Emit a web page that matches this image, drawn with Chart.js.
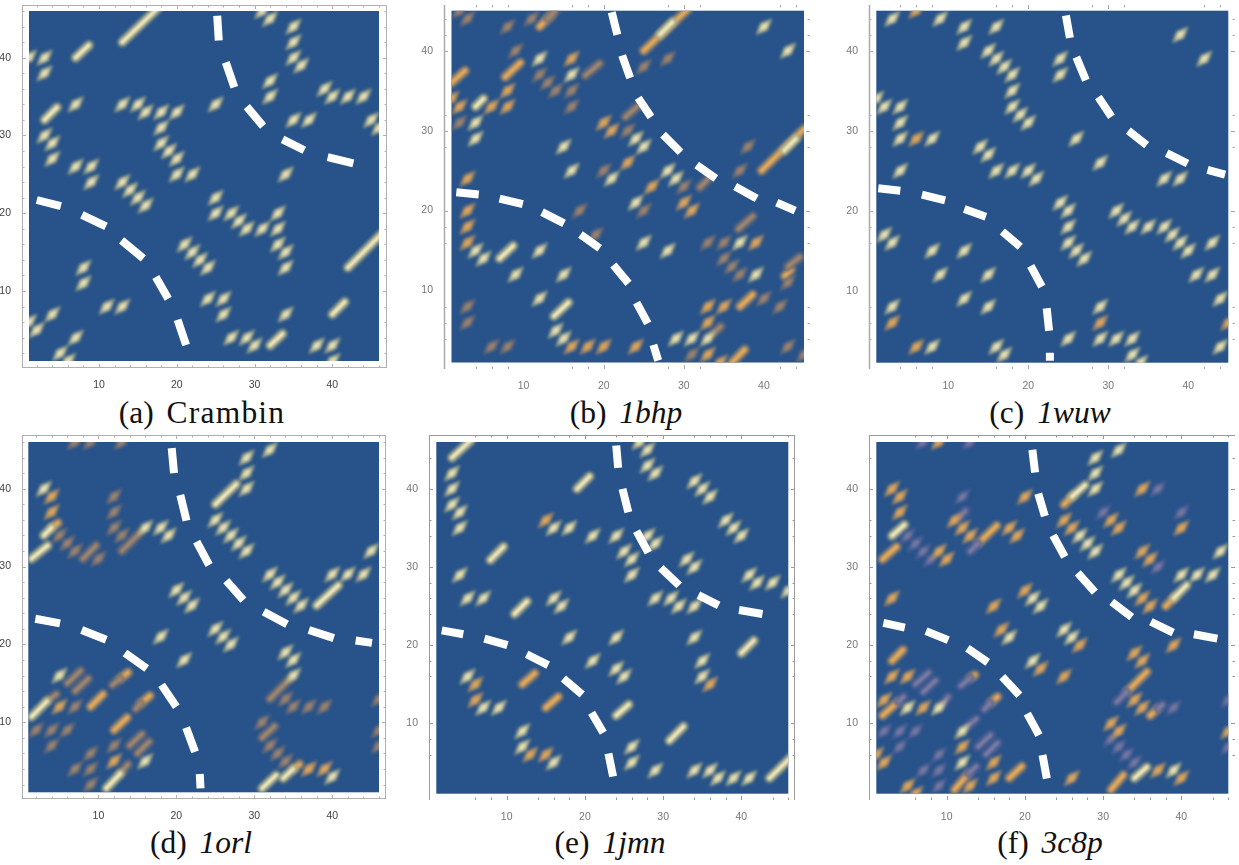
<!DOCTYPE html>
<html lang="en">

<head>
    <meta charset="UTF-8">
    <title>Contact maps</title>
    <script src="https://cdn.jsdelivr.net/npm/chart.js"></script>
    <style>
        html, body { margin: 0; background: #fff; overflow: hidden; }
        canvas { position: absolute; }
        .caption { position: absolute; font: 31.5px "Liberation Serif", serif; color: #111; transform: translateX(-50%); white-space: pre; line-height: 34px; word-spacing: 5px; }
        .caption span { letter-spacing: 1.2px; }
    </style>
</head>

<body>
    <script>
        // tick lists
        var everyTwo = [2, 4, 6, 8, 10, 12, 14, 16, 18, 20, 22, 24, 26, 28, 30, 32, 34, 36, 38, 40, 42, 44, 46];
        var sparseX = [4, 6, 8, 16, 18, 20, 28, 30, 32, 42, 44];
        var sparseY = [4, 6, 8, 16, 18, 20, 28, 30, 32, 40, 42, 44];
        var wideX = [6, 8, 10, 14, 16, 18, 20, 24, 26, 28, 30, 34, 36, 38, 40, 44, 46];
        var wideY = [6, 8, 10, 16, 18, 20, 24, 26, 28, 30, 34, 36, 40, 44];
        var labelTicks = [10, 20, 30, 40];

        // (a) Crambin
        var aCream = [[1,40],[3,40],[3,38],[7,34],[3,30],[4,29],[4,27],[7,26],[9,26],[9,24],[13,34],[15,34],[16,33],[18,33],[20,33],[18,31],[18,29],[19,28],[20,27],[20,25],[22,25],[13,24],[14,23],[15,22],[16,21],[25,34],[25,22],[25,20],[27,20],[28,19],[29,18],[31,18],[33,18],[33,20],[33,16],[34,15],[34,13],[34,25],[21,16],[22,15],[23,14],[24,13],[8,13],[8,11],[11,8],[13,8],[4,7],[1,6],[2,5],[7,4],[5,2],[6,1],[24,9],[26,9],[26,7],[27,4],[29,4],[30,3],[34,7],[38,3],[40,3],[40,1],[31,46],[32,45],[35,44],[35,42],[35,40],[36,39],[32,37],[32,35],[39,36],[40,35],[42,35],[44,35],[45,32],[46,31],[35,32],[37,32]];
        var aCreamRuns = [[13,42,17.6,46.4],[7,40,8.7,41.6],[3,32,4.6,33.6],[32,3,33.6,4.5],[40,7,41.6,8.6],[42,13,46.4,17.4]];
        var aDashes = [[[2,21.7],[5.1,20.9]],[[7.8,19.8],[10.9,18.3]],[[12.9,16.5],[15.7,14.2]],[[17.3,11.8],[18.9,9]],[[20.1,6.3],[21.2,3.05]],[[25.2,45.4],[25.4,42.2]],[[26.3,39.4],[27.4,36.2]],[[29,33.7],[31.1,31.2]],[[33.6,29.5],[36.4,28.1]],[[39.4,27.2],[42.7,26.4]]];

        // (b) 1bhp
        var bCream = [[12,39],[16,37],[4,31],[4,29],[4,15],[5,14],[12,15],[9,12],[15,28],[16,25],[15,12],[12,9],[14,5],[15,4],[24,29],[25,28],[21,24],[28,25],[29,24],[24,21],[25,16],[28,15],[40,43],[43,40],[37,16],[39,12],[29,4],[31,4],[33,4]];
        var bOrange = [[16,39],[8,35],[8,33],[6,33],[2,33],[1,34],[3,24],[3,20],[3,18],[3,16],[16,3],[18,3],[20,3],[24,3],[20,31],[21,30],[23,26],[26,23],[30,21],[31,20],[39,16],[33,8],[35,8],[33,6],[33,2],[34.5,1]];
        var bTan = [[2,45],[3,44],[8,43],[11,44],[9,40],[12,37],[13,36],[14,35],[16,35],[16,33],[2,31],[3,8],[3,6],[6,3],[8,3],[17,20],[19,17],[23,30],[20,25],[30,23],[25,20],[25,38],[28,39],[38,28],[37,25],[33,16],[35,16],[35,14],[36,13],[37,12],[43,11],[40,9],[42,8],[43,3],[45,2],[31,2]];
        var bCreamRuns = [[7,14,8.7,15.6],[13.8,6.8,15.6,8.5],[4,33,5,34],[27,42,28.6,43.6],[42.5,27.5,44,29]];
        var bOrangeRuns = [[12,43,13.5,44.5],[7.7,36.7,9.6,38.5],[1,36,2.7,37.5],[25,40,30.5,45.2],[39.7,25,45,30.2],[42.6,11.8,43.4,12.6],[37,8,38.6,9.5],[36,1,37.6,2.6]];
        var bTanRuns = [[13,44,14,45],[17.7,36.9,19.5,38.4],[22.7,31.7,24.2,33],[32,22.9,33,23.9],[36.8,17.7,38.6,19.3],[43,13,44.5,14.2],[33.5,4.5,34.6,5.5]];
        var bDashes = [[[1.6,22.3],[4.4,22]],[[7,21.5],[9.9,20.8]],[[12.3,19.8],[15.05,18.4]],[[17.1,17],[19.5,15.3]],[[21.2,13.2],[23.1,10.9]],[[24.1,8.5],[25.5,5.9]],[[26.2,3.2],[26.8,1.25]],[[21,44.8],[21.7,42]],[[22.3,39.4],[23.3,36.6]],[[24.3,34.1],[25.9,31.7]],[[27.4,29.5],[29.6,27.3]],[[31.6,25.7],[34,24]],[[36.4,23],[39.1,21.5]],[[41.6,21],[43.9,20]]];

        // (c) 1wuw
        var cCream = [[3,44],[9,44],[12,43],[12,41],[16,43],[15,40],[16,39],[17,38],[18,37],[18,35],[18,33],[19,32],[20,31],[1,34],[2,33],[4,33],[4,31],[4,29],[8,29],[4,25],[14,28],[15,27],[16,25],[18,25],[20,25],[21,24],[2,17],[3,16],[8,15],[12,15],[9,12],[15,12],[12,9],[15,8],[3,8],[8,3],[16,3],[17,2],[24,39],[24,37],[26,29],[29,26],[39,42],[42,39],[37,24],[39,24],[24,21],[25,20],[25,18],[25,16],[26,15],[27,14],[31,20],[32,19],[33,18],[35,18],[37,18],[38,17],[39,16],[40,15],[43,16],[41,12],[43,12],[44,9],[44,3],[29,8],[29,4],[31,4],[33,4],[33,2],[34,1],[25,4]];
        var cOrange = [[6,45],[6,29],[3,6],[6,3],[45,6],[29,6]];
        var cDashes = [[[1.25,22.8],[4,22.5]],[[6.7,22],[9.6,21.3]],[[12,20.2],[14.7,19.25]],[[16.75,17.4],[19,15.5]],[[20.3,13.1],[21.7,10.5]],[[22.3,7.8],[22.6,5]],[[22.7,2.25],[22.7,1.25]],[[24.7,44.4],[25.2,41.6]],[[26,39.2],[27.2,36.3]],[[28.75,34.2],[30.4,31.75]],[[32.5,30],[34.8,28.2]],[[37.3,27.2],[39.9,25.9]],[[42.4,25.1],[44.6,24.5]]];

        // (d) 1orl
        var dCream = [[32,45],[29,44],[29,42],[29,40],[25,36],[26,35],[27,34],[28,33],[29,32],[3,40],[16,35],[18,35],[19,34],[20,27],[21,26],[22,25],[25,22],[26,21],[27,20],[18,21],[21,18],[32,29],[33,28],[34,27],[35,26],[36,25],[40,29],[42,29],[44,29],[45,32],[34,19],[35,18],[35,16],[40,3],[5,16],[16,5]];
        var dOrange = [[4,39],[4,37],[5,12],[12,5],[37,4],[39,4]];
        var dTan = [[7,46],[9,46],[13,46],[5,34],[6,33],[7,32],[10,31],[12,39],[12,37],[12,35],[13,34],[34,13],[35,12],[37,12],[39,12],[46,13],[46,9],[46,7],[31,10],[32,7],[33,6],[34,5],[7,12],[2,9],[4,9],[6,9],[4,7],[12,7],[9,6],[7,4],[9,4],[9,2]];
        var dCreamRuns = [[25,38,27.7,40.6],[38,25,40.8,27.6],[1.4,31,3.5,32.7],[3,34,4,35],[31,1.5,32.8,3.2],[33.7,2.8,35,4],[1.4,10.7,3.4,12.7],[11,1.5,12.8,3.4]];
        var dOrangeRuns = [[4,35,4.8,35.6],[12.8,15.6,13.8,16.4],[35,4,35.8,4.6],[9,12,10.6,13.6],[15.4,12.4,16.6,13.4],[12,9,13.7,10.6]];
        var dTanRuns = [[8,31,9.7,32.7],[13,32,15.4,34.4],[6,15,7.7,16.6],[7,14,8.7,15.6],[11.8,14.8,12.8,15.6],[32,13,34.6,15.6],[31,8,32.6,9.5],[3.4,12.7,4.6,13.6],[14.8,11.7,15.4,12.4],[14,7,15.6,8.5],[15,6,16.5,7.5],[12.8,3.4,13.8,4.6]];
        var dDashes = [[[1.9,23.3],[5.07,22.7]],[[7.85,21.85],[11,20.6]],[[13.4,18.9],[16.2,16.9]],[[18.1,14.8],[20,12]],[[21.25,9.3],[22.4,6.2]],[[23,3.35],[23.1,1.5]],[[19.4,45.2],[19.7,42]],[[20.5,39.2],[21.3,35.9]],[[22.6,33.2],[24.2,30.2]],[[26.4,28.2],[28.6,25.7]],[[31.2,24.2],[34.2,22.6]],[[37,21.85],[40.2,20.8]],[[43,20.5],[45.1,20.2]]];

        // (e) 1jmn
        var eCream = [[3,42],[3,40],[3,38],[4,37],[4,35],[4,29],[5,26],[7,26],[16,26],[17,25],[16,35],[18,35],[21,34],[24,34],[18,21],[21,18],[24,21],[24,17],[25,16],[5,16],[7,12],[9,12],[12,9],[12,7],[16,5],[26,7],[26,5],[29,4],[34,4],[36,4],[37,3],[39,3],[41,3],[27,46],[28,45],[28,43],[29,42],[34,41],[35,40],[36,39],[38,36],[39,35],[40,34],[28,34],[29,33],[25,32],[26,31],[26,29],[33,31],[34,30],[41,29],[42,28],[44,28],[46,27],[29,26],[31,26],[32,25],[34,25],[34,21],[35,18],[35,16]];
        var eOrange = [[15,36],[6,15],[6,13],[13,6],[15,6],[36,15]];
        var eCreamRuns = [[3,44,5.4,46.2],[7.9,30.9,9.6,32.6],[11,24,12.6,25.6],[19,40,20.6,41.6],[24,11,25.6,12.4],[30.8,7.8,32.6,9.6],[43.6,3,46.4,5.7],[40,19,41.6,20.6]];
        var eOrangeRuns = [[12,15,13.6,16.4],[15,12,16.6,13.4]];
        var eDashes = [[[1.7,21.9],[4.45,21.4]],[[7.15,20.85],[10.1,20]],[[12.55,18.85],[15.3,17.45]],[[17.25,15.75],[19.65,13.7]],[[20.85,11.35],[22.35,8.8]],[[23,6.15],[23.6,3.2]],[[24,45.55],[24.25,42.7]],[[24.8,40],[25.55,37]],[[26.6,34.6],[28.1,31.85]],[[29.7,29.9],[32.05,27.65]],[[34.5,26.4],[37.1,25.1]],[[39.7,24.5],[42.7,24]]];

        // (f) 3c8p
        var fCream = [[32,45],[29,44],[29,42],[29,40],[27,34],[28,33],[29,32],[32,29],[33,28],[34,27],[40,29],[42,29],[44,29],[45,32],[21,26],[22,25],[18,21],[25,22],[26,21],[21,18],[5,12],[9,12],[12,9],[12,5],[39,4]];
        var fOrange = [[9,46],[25,36],[26,35],[3,40],[4,39],[4,37],[9,32],[10,31],[11,36],[12,35],[13,34],[18,35],[19,34],[20,39],[31,36],[32,35],[35,40],[40,35],[35,32],[36,31],[35,26],[36,25],[3,26],[20,27],[16,25],[17,22],[27,20],[39,20],[34,19],[35,18],[34,13],[35,12],[46,9],[22,17],[25,16],[3,16],[5,16],[2,13],[7,12],[12,7],[1,6],[2,5],[16,5],[16,3],[5,2],[6,1],[13,2],[26,3],[37,4],[40,3],[31,10],[32,9]];
        var fLilac = [[7,46],[13,46],[5,34],[6,33],[7,32],[8,31],[12,39],[30,37],[37,40],[40,37],[37,30],[39,12],[46,13],[46,7],[2,9],[4,9],[6,9],[4,7],[9,6],[7,4],[9,4],[9,2],[31,8],[32,7],[33,6],[34,5]];
        var fCreamRuns = [[3,34,4.6,35.4],[26,39,27.7,40.5],[39,26,40.7,27.7],[34,3,35.6,4.4]];
        var fOrangeRuns = [[25,38,26.2,39.2],[38,25,39.2,26.2],[14,33,16.4,35.3],[1.8,11,3.8,12.8],[1.8,31,3.6,32.6],[3,18,4.4,19.4],[13,15.8,13.6,16.2],[33,14,35.6,16.6],[36,11,37,11.9],[15.6,12.6,16.5,13.4],[18,3,19.6,4.5],[11,1.5,12.8,3.6],[31,1.5,32.6,3.4]];
        var fLilacRuns = [[11.6,36.2,12.4,37.2],[13,32,14,33],[6,15,7.7,16.5],[7,14,8.6,15.5],[11.8,14.8,13,15.8],[31.7,12.7,33,14],[37,11.9,37.6,12.4],[3.8,12.8,4.5,13.4],[9,12,10.2,13.4],[14.8,11.8,15.6,12.6],[12.6,9.6,13.8,10.6],[14,7,15.6,8.5],[15,6,16.5,7.5],[12.8,3.6,13.8,4.5]];
        var fDashes = [[[1.9,22.85],[4.65,22.25]],[[7.35,21.8],[10.2,20.65]],[[12.65,19.6],[15.25,17.8]],[[17.1,15.95],[19.3,13.6]],[[20.3,11.25],[21.8,8.5]],[[22.25,5.95],[22.8,2.95]],[[20.95,45],[21.3,42.1]],[[21.7,39.4],[22.55,36.5]],[[23.6,34.05],[25.1,31.3]],[[26.75,29.25],[28.95,26.8]],[[31.1,25.55],[33.65,23.6]],[[36.1,23],[38.95,21.6]],[[41.6,21.4],[44.6,20.85]]];

        var navy = '#27538a';
        var tones = {
            cream: { edge: 'rgba(170,172,138,0.9)', core: '#efe8bd' },
            orange: { edge: 'rgba(166,138,104,0.9)', core: '#e6ab58' },
            tan: { edge: 'rgba(118,110,114,0.85)', core: '#a08870' },
            lilac: { edge: 'rgba(86,98,150,0.85)', core: '#7b7da2' }
        };

        function rhombus(g, tip, side) {
            g.beginPath();
            g.moveTo(15 - tip, 15 + tip);
            g.lineTo(15 - side, 15 - side);
            g.lineTo(15 + tip, 15 - tip);
            g.lineTo(15 + side, 15 + side);
            g.closePath();
            g.fill();
        }

        // soft little diamond used as the point image
        function makeSprite(tone) {
            var c = document.createElement('canvas');
            c.width = 30;
            c.height = 30;
            var g = c.getContext('2d');
            g.filter = 'blur(1.6px)';
            g.fillStyle = tone.edge;
            rhombus(g, 8.5, 3.8);
            g.filter = 'blur(1.4px)';
            g.fillStyle = tone.core;
            rhombus(g, 4.8, 1.9);
            return c;
        }

        var sprites = {};
        Object.keys(tones).forEach(function(k) { sprites[k] = makeSprite(tones[k]); });

        var mapPlugin = {
            id: 'mapPlugin',
            beforeDatasetsDraw: function(chart) {
                var p = chart.options.plugins.mapPlugin;
                var x = chart.scales.x, y = chart.scales.y, ctx = chart.ctx;
                var left = x.getPixelForValue(1), right = x.getPixelForValue(p.top);
                var top = y.getPixelForValue(p.top), bottom = y.getPixelForValue(1);
                ctx.fillStyle = navy;
                ctx.fillRect(left, top, right - left, bottom - top);
                ctx.save();
                ctx.beginPath();
                ctx.rect(left, top, right - left, bottom - top);
                ctx.clip();
            },
            afterDatasetsDraw: function(chart) {
                chart.ctx.restore();
            },
            beforeDatasetDraw: function(chart, args) {
                var blur = chart.data.datasets[args.index].blurPx;
                chart.ctx.save();
                if (blur) chart.ctx.filter = 'blur(' + blur + 'px)';
            },
            afterDatasetDraw: function(chart) {
                chart.ctx.restore();
            },
            afterDraw: function(chart) {
                // inward ticks and spines
                var p = chart.options.plugins.mapPlugin;
                var x = chart.scales.x, y = chart.scales.y, ctx = chart.ctx, a = chart.chartArea;
                ctx.save();
                ctx.strokeStyle = p.lineColor;
                ctx.lineWidth = 1;
                ctx.beginPath();
                p.xTicks.forEach(function(v) {
                    var px = Math.round(x.getPixelForValue(v)) + 0.5, n = v % 10 === 0 ? 4 : 2.5;
                    ctx.moveTo(px, a.bottom); ctx.lineTo(px, a.bottom - n);
                    ctx.moveTo(px, a.top); ctx.lineTo(px, a.top + n);
                });
                p.yTicks.forEach(function(v) {
                    var py = Math.round(y.getPixelForValue(v)) + 0.5, n = v % 10 === 0 ? 4 : 2.5;
                    ctx.moveTo(a.left, py); ctx.lineTo(a.left + n, py);
                    ctx.moveTo(a.right, py); ctx.lineTo(a.right - n, py);
                });
                ctx.stroke();
                ctx.lineWidth = p.sides.length === 1 ? 1.5 : 1;
                ctx.beginPath();
                if (p.sides.indexOf('l') >= 0) { ctx.moveTo(a.left + 0.5, a.top); ctx.lineTo(a.left + 0.5, a.bottom); }
                if (p.sides.indexOf('r') >= 0) { ctx.moveTo(a.right - 0.5, a.top); ctx.lineTo(a.right - 0.5, a.bottom); }
                if (p.sides.indexOf('t') >= 0) { ctx.moveTo(a.left, a.top + 0.5); ctx.lineTo(a.right, a.top + 0.5); }
                if (p.sides.indexOf('b') >= 0) { ctx.moveTo(a.left, a.bottom - 0.5); ctx.lineTo(a.right, a.bottom - 0.5); }
                ctx.stroke();
                ctx.restore();
            }
        };

        function toPoints(list) {
            return list.map(function(p) { return { x: p[0], y: p[1] }; });
        }

        function runSets(runs, tone) {
            var out = [];
            if (!runs) return out;
            var lines = [[tone.edge, 9.5, 1.7], [tone.core, 3.8, 1.3]];
            lines.forEach(function(l) {
                runs.forEach(function(r) {
                    out.push({
                        data: [{ x: r[0], y: r[1] }, { x: r[2], y: r[3] }],
                        showLine: true,
                        pointRadius: 0,
                        borderColor: l[0],
                        borderWidth: l[1],
                        borderCapStyle: 'round',
                        blurPx: l[2]
                    });
                });
            });
            return out;
        }

        function drawPanel(cfg) {
            var f = cfg.frame, pl = cfg.plot;
            var unitX = (pl[2] - pl[0]) / (cfg.top - 1), unitY = (pl[3] - pl[1]) / (cfg.top - 1);
            var canvas = document.createElement('canvas');
            canvas.width = f[2] - f[0] + 30;
            canvas.height = f[3] - f[1] + 26;
            canvas.style.left = (f[0] - 24) + 'px';
            canvas.style.top = (f[1] - 4) + 'px';
            document.body.appendChild(canvas);

            // bottom layer first, reversed below because Chart.js paints index 0 last
            var sets = [];
            sets = sets.concat(runSets(cfg.orangeRuns, tones.orange), runSets(cfg.tanRuns, tones.tan), runSets(cfg.lilacRuns, tones.lilac), runSets(cfg.creamRuns, tones.cream));
            [['tan', cfg.tan], ['lilac', cfg.lilac], ['orange', cfg.orange], ['cream', cfg.cream]].forEach(function(b) {
                if (!b[1]) return;
                sets.push({ data: toPoints(b[1]), pointStyle: sprites[b[0]], pointRadius: 7, showLine: false });
            });
            var dashPts = [];
            cfg.dashes.forEach(function(d) {
                dashPts = dashPts.concat(toPoints(d));
                dashPts.push({ x: d[1][0], y: null });
            });
            sets.push({ data: dashPts, showLine: true, pointRadius: 0, borderColor: '#fff', borderWidth: 8, borderCapStyle: 'butt', spanGaps: false });

            new Chart(canvas, {
                type: 'scatter',
                data: { datasets: sets.reverse() },
                plugins: [mapPlugin],
                options: {
                    responsive: false,
                    animation: false,
                    events: [],
                    layout: { autoPadding: false, padding: { top: 4, right: 6, left: 0, bottom: 0 } },
                    plugins: {
                        legend: { display: false },
                        tooltip: { enabled: false },
                        mapPlugin: { top: cfg.top, xTicks: cfg.xTicks, yTicks: cfg.yTicks, sides: cfg.sides, lineColor: cfg.lineColor }
                    },
                    scales: {
                        x: {
                            type: 'linear',
                            min: 1 - (pl[0] - f[0]) / unitX,
                            max: cfg.top + (f[2] - pl[2]) / unitX,
                            grid: { display: false },
                            border: { display: false },
                            afterBuildTicks: function(s) { s.ticks = labelTicks.map(function(v) { return { value: v }; }); },
                            afterFit: function(s) { s.height = 22; s.paddingLeft = 0; s.paddingRight = 0; },
                            ticks: { autoSkip: false, maxRotation: 0, padding: 3, color: cfg.labelColor, font: { family: 'Liberation Sans', size: 10.5 } }
                        },
                        y: {
                            type: 'linear',
                            min: 1 - (f[3] - pl[3]) / unitY,
                            max: cfg.top + (pl[1] - f[1]) / unitY,
                            grid: { display: false },
                            border: { display: false },
                            afterBuildTicks: function(s) { s.ticks = labelTicks.map(function(v) { return { value: v }; }); },
                            afterFit: function(s) { s.width = 24; s.paddingTop = 0; s.paddingBottom = 0; },
                            ticks: { autoSkip: false, padding: 3, color: cfg.labelColor, font: { family: 'Liberation Sans', size: 10.5 } }
                        }
                    }
                }
            });
        }

        var panels = [
            { frame: [22, 5, 387, 368], plot: [29, 11, 379, 361], top: 46, xTicks: everyTwo, yTicks: everyTwo, sides: 'lrtb', lineColor: '#b0b0b0', labelColor: '#444', cream: aCream, creamRuns: aCreamRuns, dashes: aDashes },
            { frame: [444, 5, 810, 369], plot: [451.5, 10.7, 804, 362.5], top: 45, xTicks: sparseX, yTicks: sparseY, sides: 'l', lineColor: '#aaa', labelColor: '#777', cream: bCream, orange: bOrange, tan: bTan, creamRuns: bCreamRuns, orangeRuns: bOrangeRuns, tanRuns: bTanRuns, dashes: bDashes },
            { frame: [869, 5, 1235, 369], plot: [876.3, 10.7, 1228.3, 362.7], top: 45, xTicks: sparseX, yTicks: sparseY, sides: 'l', lineColor: '#aaa', labelColor: '#777', cream: cCream, orange: cOrange, dashes: cDashes },
            { frame: [22, 435, 386, 799], plot: [28.3, 442, 379, 792.3], top: 46, xTicks: everyTwo, yTicks: everyTwo, sides: 'lrtb', lineColor: '#b0b0b0', labelColor: '#444', cream: dCream, orange: dOrange, tan: dTan, creamRuns: dCreamRuns, orangeRuns: dOrangeRuns, tanRuns: dTanRuns, dashes: dDashes },
            { frame: [429, 435, 795, 800], plot: [436.3, 442, 788.3, 793.7], top: 46, xTicks: wideX, yTicks: wideY, sides: 'ltr', lineColor: '#999', labelColor: '#777', cream: eCream, orange: eOrange, creamRuns: eCreamRuns, orangeRuns: eOrangeRuns, dashes: eDashes },
            { frame: [869, 435, 1235, 800], plot: [876.3, 442, 1228.3, 793.7], top: 46, xTicks: wideX, yTicks: wideY, sides: 'lt', lineColor: '#999', labelColor: '#777', cream: fCream, orange: fOrange, lilac: fLilac, creamRuns: fCreamRuns, orangeRuns: fOrangeRuns, lilacRuns: fLilacRuns, dashes: fDashes }
        ];

        panels.forEach(drawPanel);

        var captions = [
            ['(a)', 'Crambin', false, 202, 396],
            ['(b)', '1bhp', true, 626, 396],
            ['(c)', '1wuw', true, 1050, 396],
            ['(d)', '1orl', true, 201, 826],
            ['(e)', '1jmn', true, 610, 826],
            ['(f)', '3c8p', true, 1050, 826]
        ];

        captions.forEach(function(c) {
            var el = document.createElement('div');
            el.className = 'caption';
            el.style.left = c[3] + 'px';
            el.style.top = c[4] + 'px';
            el.appendChild(document.createTextNode(c[0] + ' '));
            var name = document.createElement(c[2] ? 'i' : 'span');
            name.textContent = c[1];
            el.appendChild(name);
            document.body.appendChild(el);
        });
    </script>
</body>

</html>
